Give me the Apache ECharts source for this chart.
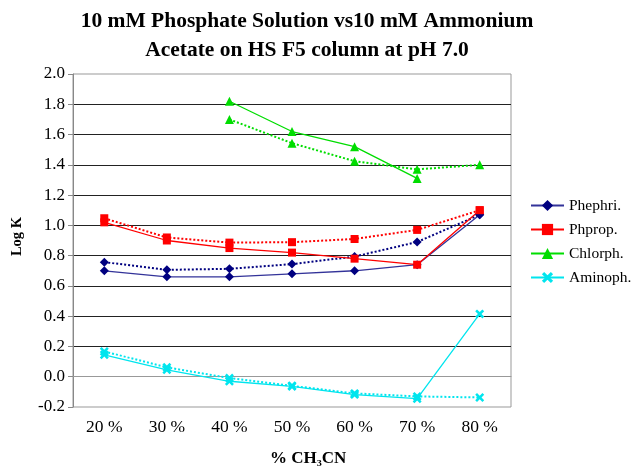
<!DOCTYPE html>
<html>
<head>
<meta charset="utf-8">
<script src="https://cdn.jsdelivr.net/npm/echarts@6/dist/echarts.min.js"></script>
<style>html,body{margin:0;padding:0;background:#fff}#c{width:635px;height:468px}</style>
</head>
<body>
<div id="c"></div>
<script>
var titleLines = ['10 mM Phosphate Solution vs10 mM Ammonium', 'Acetate on HS F5 column at pH 7.0'];
var categories = ['20 %', '30 %', '40 %', '50 %', '60 %', '70 %', '80 %'];
var yTicks = [-0.2, 0.0, 0.2, 0.4, 0.6, 0.8, 1.0, 1.2, 1.4, 1.6, 1.8, 2.0];
var legendNames = ['Phephri.', 'Phprop.', 'Chlorph.', 'Aminoph.'];
// Solid lines: 10 mM Phosphate
var phephriP = [0.70, 0.66, 0.66, 0.68, 0.70, 0.74, 1.07];
var phpropP  = [1.02, 0.90, 0.85, 0.82, 0.78, 0.74, 1.10];
var chlorphP = [null, null, 1.82, 1.62, 1.52, 1.31, null];
var aminophP = [0.145, 0.046, -0.03, -0.064, -0.118, -0.145, 0.415];
// Dotted lines: 10 mM Ammonium Acetate
var phephriA = [0.757, 0.706, 0.713, 0.744, 0.794, 0.89, 1.07];
var phpropA  = [1.047, 0.92, 0.886, 0.889, 0.91, 0.97, 1.10];
var chlorphA = [null, null, 1.70, 1.543, 1.424, 1.37, 1.40];
var aminophA = [0.167, 0.062, -0.009, -0.06, -0.11, -0.13, -0.137];

var serif = '"Liberation Serif", "Times New Roman", serif';
var xPath = 'path://M2,0L5,3L8,0L10,2L7,5L10,8L8,10L5,7L2,10L0,8L3,5L0,2Z';

function mk(name, data, color, lineColor, symbol, size, dotted) {
  return {
    name: name, type: 'line', data: data, symbol: symbol, symbolSize: size,
    connectNulls: false,
    itemStyle: { color: color },
    lineStyle: { color: lineColor, width: dotted ? 2 : 1.3, type: dotted ? 'dotted' : 'solid' },
    emphasis: { disabled: true },
    z: dotted ? 2 : 3
  };
}

var chart = echarts.init(document.getElementById('c'));
chart.setOption({
  animation: false,
  legend: {
    orient: 'vertical', left: 530, top: 197, padding: 0,
    itemWidth: 33, itemHeight: 14, itemGap: 7,
    data: legendNames,
    textStyle: { fontFamily: 'Liberation Serif', fontSize: 15.5, lineHeight: 17, color: '#000', width: 80, overflow: 'none' }
  },
  grid: { left: 73, right: 124, top: 74, bottom: 61, show: true, borderColor: '#999', borderWidth: 1, backgroundColor: 'transparent' },
  xAxis: {
    type: 'category', data: categories, boundaryGap: true,
    axisLine: { show: true, lineStyle: { color: '#999' } },
    axisTick: { show: false },
    axisLabel: { fontFamily: serif, fontSize: 17.5, color: '#000', margin: 11 }
  },
  yAxis: {
    type: 'value', min: -0.2, max: 2.0, interval: 0.2,
    axisLine: { show: true, lineStyle: { color: '#888' } },
    axisTick: { show: true, inside: false, length: 5, lineStyle: { color: '#888' } },
    axisLabel: { fontFamily: serif, fontSize: 17, color: '#000', margin: 8,
      formatter: function (v) { return v.toFixed(1); } },
    splitLine: { show: true, showMinLine: false, showMaxLine: false, lineStyle: { color: '#222', width: 1 } }
  },
  graphic: [
    { type: 'text', x: 307, y: 7,
      style: { text: titleLines.join('\n'), font: 'bold 21.5px ' + serif, lineHeight: 29, fill: '#000', align: 'center' } },
    { type: 'text', left: 10, top: 217, rotation: Math.PI / 2,
      style: { text: 'Log K', font: 'bold 14.5px ' + serif, fill: '#000' } },
    { type: 'text', left: 270, top: 450,
      style: { text: '% CH\u2083CN', font: 'bold 17px ' + serif, fill: '#000' } }
  ],
  series: [
    mk('Phephri.', phephriP, '#000080', '#333399', 'diamond', 9, false),
    mk('Phprop.', phpropP, '#ff0000', '#ff0000', 'rect', 8, false),
    mk('Chlorph.', chlorphP, '#00dd00', '#00dd00', 'triangle', 9, false),
    mk('Aminoph.', aminophP, '#00e5ee', '#00e5ee', xPath, 9, false),
    mk('Phephri. AA', phephriA, '#000080', '#000080', 'diamond', 9, true),
    mk('Phprop. AA', phpropA, '#ff0000', '#ff0000', 'rect', 8, true),
    mk('Chlorph. AA', chlorphA, '#00dd00', '#00dd00', 'triangle', 9, true),
    mk('Aminoph. AA', aminophA, '#00e5ee', '#00e5ee', xPath, 9, true)
  ]
});
</script>
</body>
</html>
